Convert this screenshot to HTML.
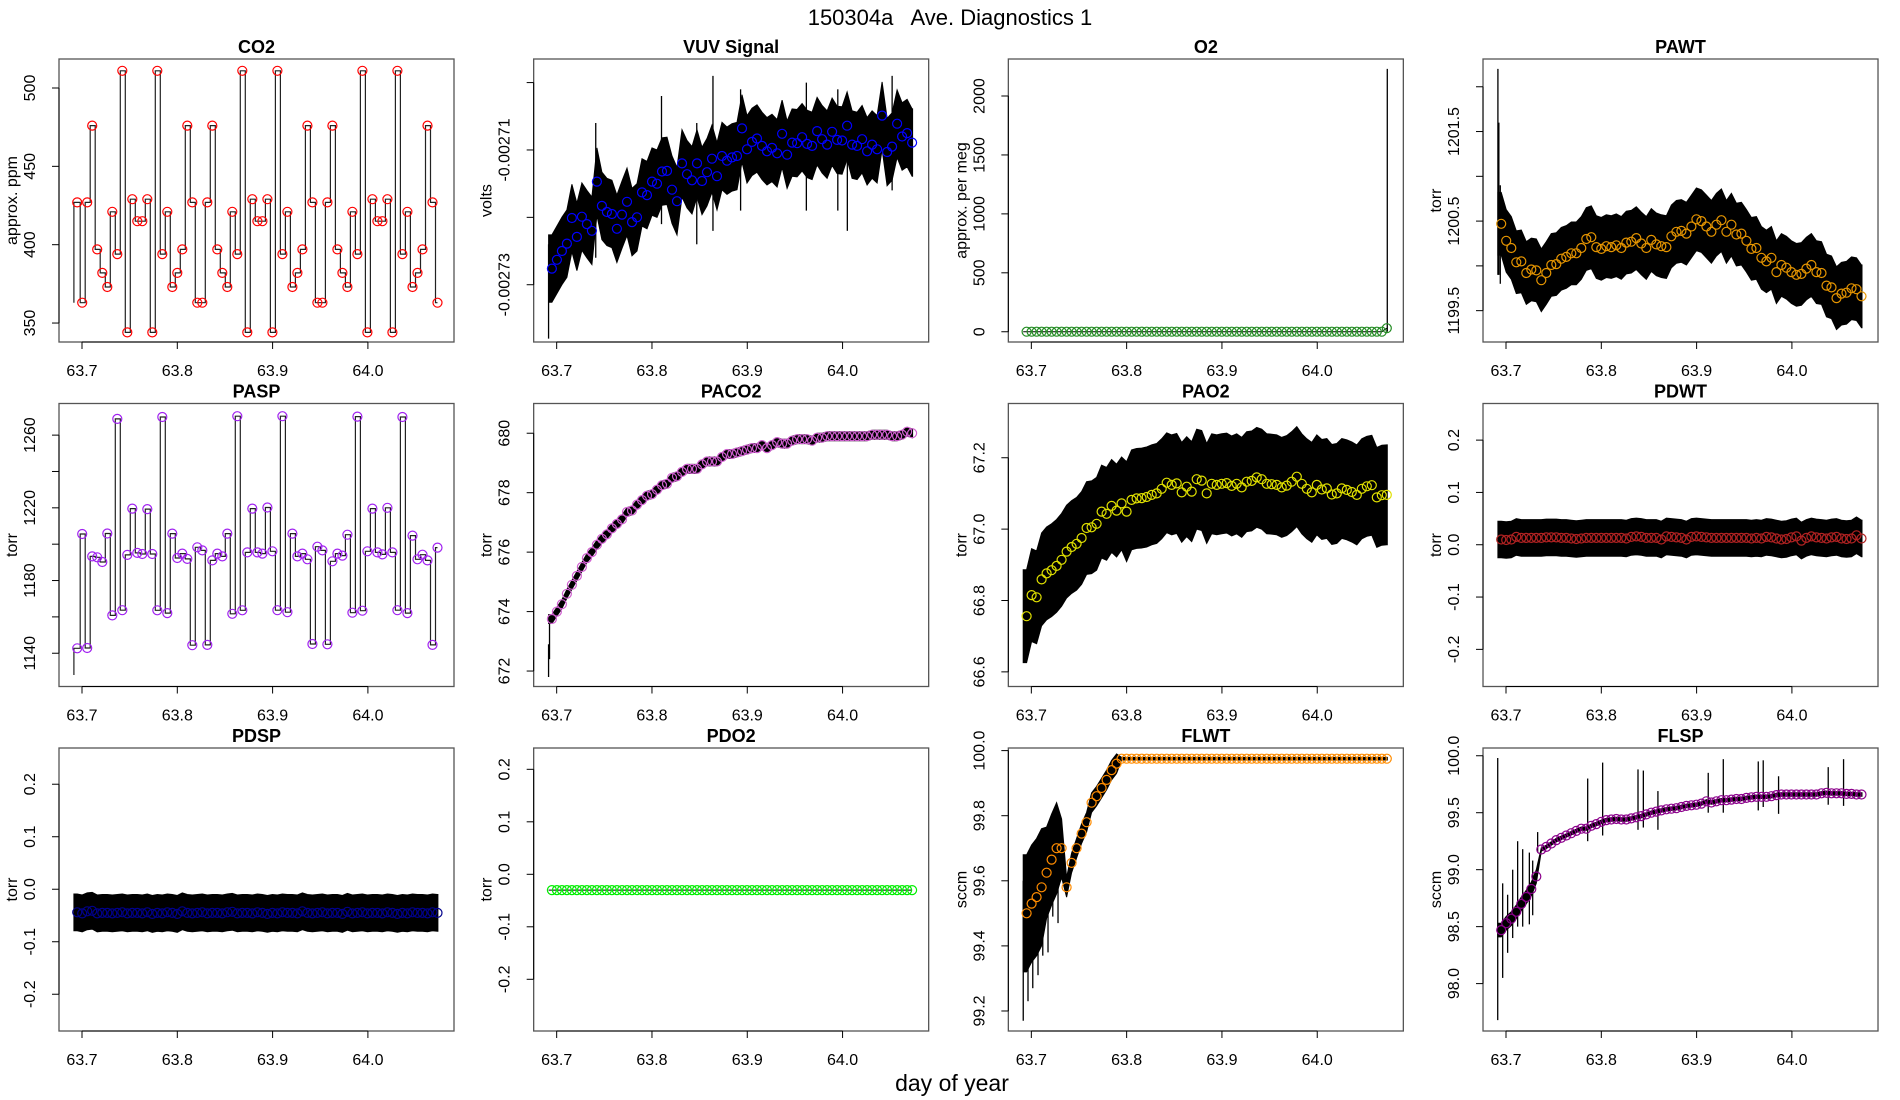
<!DOCTYPE html>
<html><head><meta charset="utf-8"><style>
html,body{margin:0;padding:0;background:#fff;}
svg{display:block;font-family:"Liberation Sans",sans-serif;}
</style></head><body>
<svg id="fig" width="1900" height="1100" viewBox="0 0 1900 1100">
<text x="950" y="25" text-anchor="middle" font-size="22" style="white-space:pre" xml:space="preserve">150304a   Ave. Diagnostics 1</text>
<text x="952" y="1091" text-anchor="middle" font-size="23">day of year</text>
</svg>
<script>
// ---- data ----
const xTicks = [63.7, 63.8, 63.9, 64.0];
const xTickLabels = ["63.7", "63.8", "63.9", "64.0"];
const tStart = 63.695, tStep = 0.00525, tFirst = 63.6915, tLast = 64.0735;

const co2Vals = [427,363,427,476,397,382,373,421,394,511,344,429,415,415,429,344,511,394,421,373,382,397,476,427,363,363,427,476,397,382,373,421,394,511,344,429,415,415,429,344,511,394,421,373,382,397,476,427,363,363,427,476,397,382,373,421,394,511,344,429,415,415,429,344,511,394,421,373,382,397,476,427,363];
const vuvVals = [-272.76,-272.63,-272.50,-272.39,-272.01,-272.29,-271.99,-272.10,-272.20,-271.47,-271.83,-271.92,-271.95,-272.17,-271.96,-271.77,-272.07,-272.00,-271.63,-271.67,-271.47,-271.50,-271.32,-271.31,-271.59,-271.76,-271.20,-271.36,-271.45,-271.20,-271.46,-271.33,-271.13,-271.39,-271.09,-271.16,-271.11,-271.09,-270.68,-270.99,-270.88,-270.83,-270.94,-271.02,-270.97,-271.05,-270.76,-271.07,-270.89,-270.90,-270.81,-270.91,-270.94,-270.72,-270.84,-270.92,-270.73,-270.85,-270.86,-270.64,-270.92,-270.94,-270.84,-271.02,-270.92,-270.99,-270.49,-271.03,-270.95,-270.61,-270.80,-270.75,-270.89];
const o2Vals = [0,0,0,0,0,0,0,0,0,0,0,0,0,0,0,0,0,0,0,0,0,0,0,0,0,0,0,0,0,0,0,0,0,0,0,0,0,0,0,0,0,0,0,0,0,0,0,0,0,0,0,0,0,0,0,0,0,0,0,0,0,0,0,0,0,0,0,0,0,0,0,0,30];
const pawtVals = [1200.47,1200.28,1200.20,1200.04,1200.05,1199.92,1199.96,1199.95,1199.84,1199.92,1200.01,1200.02,1200.08,1200.10,1200.14,1200.14,1200.20,1200.30,1200.32,1200.21,1200.19,1200.22,1200.21,1200.23,1200.20,1200.26,1200.27,1200.31,1200.25,1200.20,1200.29,1200.24,1200.22,1200.21,1200.33,1200.38,1200.39,1200.36,1200.44,1200.52,1200.50,1200.44,1200.38,1200.46,1200.51,1200.38,1200.46,1200.35,1200.36,1200.28,1200.19,1200.20,1200.09,1200.05,1200.09,1199.93,1200.01,1199.98,1199.93,1199.90,1199.91,1199.97,1200.01,1199.93,1199.92,1199.78,1199.76,1199.64,1199.69,1199.70,1199.75,1199.74,1199.66];
const paspVals = [1142.7,1205.6,1142.9,1193.3,1192.8,1190.2,1205.9,1160.8,1268.9,1163.7,1194.1,1219.6,1195.2,1194.6,1219.3,1194.6,1163.6,1270.0,1162.1,1205.8,1192.4,1194.8,1191.9,1144.4,1198.3,1196.6,1144.6,1191.1,1194.8,1193.3,1205.8,1161.7,1270.4,1163.6,1195.5,1219.6,1195.5,1194.8,1220.2,1196.1,1163.7,1270.4,1162.6,1205.8,1193.3,1194.8,1191.7,1145.1,1198.6,1196.6,1144.9,1190.6,1194.8,1193.7,1205.2,1162.3,1270.2,1163.4,1196.1,1219.6,1195.5,1194.4,1220.0,1195.5,1163.7,1270.0,1162.1,1204.7,1191.7,1194.2,1191.1,1144.6,1198.1];
const paco2Vals = [673.75,674.0,674.25,674.6,674.9,675.2,675.5,675.8,676.0,676.25,676.45,676.6,676.8,676.95,677.1,677.35,677.4,677.6,677.75,677.9,677.95,678.1,678.25,678.3,678.5,678.55,678.7,678.8,678.8,678.8,678.95,679.05,679.05,679.05,679.2,679.3,679.3,679.35,679.4,679.45,679.5,679.5,679.6,679.5,679.6,679.7,679.65,679.65,679.75,679.8,679.8,679.8,679.75,679.85,679.85,679.9,679.9,679.9,679.9,679.9,679.9,679.9,679.9,679.9,679.95,679.95,679.95,679.95,679.9,679.9,679.95,680.05,680.0];
const pao2Vals = [66.756,66.815,66.809,66.859,66.876,66.885,66.897,66.914,66.937,66.950,66.959,66.975,67.003,67.005,67.015,67.049,67.043,67.065,67.052,67.072,67.049,67.082,67.086,67.087,67.090,67.096,67.100,67.113,67.130,67.124,67.128,67.103,67.119,67.105,67.140,67.136,67.100,67.127,67.124,67.127,67.129,67.121,67.127,67.117,67.133,67.135,67.145,67.140,67.127,67.126,67.124,67.117,67.122,67.133,67.147,67.127,67.113,67.103,67.124,67.111,67.114,67.097,67.100,67.114,67.110,67.104,67.096,67.113,67.120,67.123,67.089,67.095,67.096];
const pdwtVals = [0.010,0.009,0.010,0.015,0.013,0.013,0.013,0.013,0.013,0.014,0.014,0.014,0.013,0.013,0.012,0.011,0.012,0.013,0.013,0.013,0.013,0.013,0.013,0.013,0.013,0.012,0.015,0.016,0.015,0.013,0.013,0.013,0.010,0.016,0.015,0.014,0.013,0.010,0.015,0.016,0.015,0.014,0.013,0.013,0.013,0.013,0.013,0.013,0.013,0.013,0.012,0.013,0.012,0.015,0.014,0.012,0.010,0.011,0.014,0.016,0.008,0.013,0.016,0.014,0.013,0.012,0.014,0.015,0.012,0.011,0.012,0.018,0.012];
const pdspVals = [-0.044,-0.046,-0.042,-0.041,-0.046,-0.045,-0.045,-0.046,-0.045,-0.044,-0.046,-0.045,-0.045,-0.046,-0.044,-0.047,-0.045,-0.046,-0.044,-0.045,-0.047,-0.042,-0.045,-0.046,-0.045,-0.044,-0.046,-0.045,-0.045,-0.046,-0.044,-0.043,-0.046,-0.045,-0.045,-0.046,-0.044,-0.045,-0.047,-0.045,-0.046,-0.044,-0.045,-0.045,-0.046,-0.042,-0.045,-0.046,-0.045,-0.044,-0.046,-0.045,-0.045,-0.047,-0.043,-0.046,-0.045,-0.044,-0.046,-0.045,-0.045,-0.046,-0.044,-0.045,-0.047,-0.045,-0.046,-0.044,-0.045,-0.045,-0.046,-0.044,-0.045];
const pdo2Vals = [-0.03,-0.03,-0.03,-0.03,-0.03,-0.03,-0.03,-0.03,-0.03,-0.03,-0.03,-0.03,-0.03,-0.03,-0.03,-0.03,-0.03,-0.03,-0.03,-0.03,-0.03,-0.03,-0.03,-0.03,-0.03,-0.03,-0.03,-0.03,-0.03,-0.03,-0.03,-0.03,-0.03,-0.03,-0.03,-0.03,-0.03,-0.03,-0.03,-0.03,-0.03,-0.03,-0.03,-0.03,-0.03,-0.03,-0.03,-0.03,-0.03,-0.03,-0.03,-0.03,-0.03,-0.03,-0.03,-0.03,-0.03,-0.03,-0.03,-0.03,-0.03,-0.03,-0.03,-0.03,-0.03,-0.03,-0.03,-0.03,-0.03,-0.03,-0.03,-0.03,-0.03];
const flwtVals = [99.50,99.53,99.55,99.58,99.625,99.665,99.70,99.70,99.58,99.655,99.70,99.745,99.78,99.84,99.86,99.885,99.91,99.94,99.96,99.975,99.975,99.975,99.975,99.975,99.975,99.975,99.975,99.975,99.975,99.975,99.975,99.975,99.975,99.975,99.975,99.975,99.975,99.975,99.975,99.975,99.975,99.975,99.975,99.975,99.975,99.975,99.975,99.975,99.975,99.975,99.975,99.975,99.975,99.975,99.975,99.975,99.975,99.975,99.975,99.975,99.975,99.975,99.975,99.975,99.975,99.975,99.975,99.975,99.975,99.975,99.975,99.975,99.975];
const flspVals = [98.47,98.53,98.57,98.63,98.70,98.76,98.83,98.94,99.177,99.20,99.23,99.26,99.28,99.30,99.32,99.34,99.36,99.36,99.385,99.40,99.42,99.435,99.44,99.445,99.44,99.44,99.45,99.46,99.47,99.485,99.50,99.51,99.52,99.53,99.535,99.54,99.55,99.56,99.565,99.57,99.58,99.60,99.59,99.60,99.61,99.61,99.615,99.62,99.62,99.63,99.635,99.64,99.64,99.64,99.645,99.655,99.66,99.66,99.66,99.66,99.66,99.66,99.66,99.66,99.67,99.675,99.67,99.67,99.67,99.665,99.665,99.66,99.66];

// noise band half-widths: [fromIndex, halfWidth]
const vuvBand = [[0,0.5]];
const pawtBand = [[0,0.35]];
const paco2Band = [[0,0.15]];
const pao2Band = [[0,0.13],[20,0.14]];
const pdwtBand = [[0,0.035]];
const pdspBand = [[0,0.035]];
const flwtBand = [[0,0.18],[4,0.14],[7,0.09],[8,0.03],[19,0.004]];
const flspBand = [[0,0.06],[8,0.015]];

// spikes: [time, low, high]
const pawtSpikes = [[63.6915,1199.9,1202.2],[63.6925,1199.9,1201.6],[63.694,1199.8,1200.9]];
const paco2Spikes = [[63.6915,671.8,672.9],[63.6925,672.4,673.9]];
const o2Spikes = [[64.0735,0,2230]];
const flwtSpikes = [[63.6915,99.17,99.6],[63.6965,99.23,99.6],[63.7015,99.27,99.65],[63.7070,99.31,99.68],[63.7120,99.37,99.7],[63.7175,99.38,99.72],[63.7225,99.49,99.72],[63.7280,99.47,99.78]];
const flspSpikes = [[63.6913,97.68,99.98],[63.6965,98.05,98.88],[63.7017,98.27,98.78],[63.7070,98.4,99.0],[63.7122,98.5,99.25],[63.7175,98.5,99.18],[63.7245,98.52,99.15],[63.7280,98.6,99.08],[63.7332,99.15,99.33],[63.7857,99.25,99.8],[63.8014,99.3,99.94],[63.8385,99.35,99.88],[63.8441,99.37,99.87],[63.8594,99.35,99.69],[63.9122,99.5,99.85],[63.9280,99.5,99.97],[63.9647,99.52,99.95],[63.9699,99.55,99.96],[63.9860,99.49,99.82],[64.0381,99.57,99.9],[64.0542,99.56,99.97]];
const vuvSpikes = [[63.6915,-273.8,-272.4],[63.7410,-272.6,-270.6],[63.8100,-272.1,-270.2],[63.8470,-272.4,-270.6],[63.8640,-272.2,-269.9],[63.8930,-271.9,-270.1],[63.9620,-271.9,-270.0],[63.9950,-271.9,-270.1],[64.0050,-272.2,-270.6],[64.0520,-271.6,-269.9]];

const panels = [
 {name:"CO2", ylab:"approx. ppm", vals:co2Vals, col:"#ff0000", ylim:[337.9,518.5], ticks:[350,400,450,500], labels:["350","400","450","500"], type:"step", head:363},
 {name:"VUV Signal", ylab:"volts", vals:vuvVals, col:"#0000ff", ylim:[-273.85,-269.65], ticks:[-273,-272,-271,-270], labels:["-0.00273","","-0.00271",""], type:"band", band:vuvBand, spikes:vuvSpikes},
 {name:"O2", ylab:"approx. per meg", vals:o2Vals, col:"#228b22", ylim:[-87,2314], ticks:[0,500,1000,1500,2000], labels:["0","500","1000","1500","2000"], type:"line", spikes:o2Spikes},
 {name:"PAWT", ylab:"torr", vals:pawtVals, col:"#e69500", ylim:[1199.15,1202.31], ticks:[1199.5,1200,1200.5,1201,1201.5,1202], labels:["1199.5","","1200.5","","1201.5",""], type:"band", band:pawtBand, spikes:pawtSpikes},
 {name:"PASP", ylab:"torr", vals:paspVals, col:"#a020f0", ylim:[1121.7,1277.4], ticks:[1140,1160,1180,1200,1220,1240,1260], labels:["1140","","1180","","1220","","1260"], type:"step", head:1128},
 {name:"PACO2", ylab:"torr", vals:paco2Vals, col:"#d060d0", ylim:[671.48,681.0], ticks:[672,674,676,678,680], labels:["672","674","676","678","680"], type:"band", band:paco2Band, spikes:paco2Spikes},
 {name:"PAO2", ylab:"torr", vals:pao2Vals, col:"#e0e000", ylim:[66.559,67.352], ticks:[66.6,66.8,67.0,67.2], labels:["66.6","66.8","67.0","67.2"], type:"band", band:pao2Band},
 {name:"PDWT", ylab:"torr", vals:pdwtVals, col:"#b22222", ylim:[-0.271,0.27], ticks:[-0.2,-0.1,0,0.1,0.2], labels:["-0.2","-0.1","0.0","0.1","0.2"], type:"band", band:pdwtBand},
 {name:"PDSP", ylab:"torr", vals:pdspVals, col:"#00008b", ylim:[-0.27,0.269], ticks:[-0.2,-0.1,0,0.1,0.2], labels:["-0.2","-0.1","0.0","0.1","0.2"], type:"band", band:pdspBand},
 {name:"PDO2", ylab:"torr", vals:pdo2Vals, col:"#00ee00", ylim:[-0.2985,0.2406], ticks:[-0.2,-0.1,0,0.1,0.2], labels:["-0.2","-0.1","0.0","0.1","0.2"], type:"line"},
 {name:"FLWT", ylab:"sccm", vals:flwtVals, col:"#ff8c00", ylim:[99.1385,100.008], ticks:[99.2,99.4,99.6,99.8,100.0], labels:["99.2","99.4","99.6","99.8","100.0"], type:"band", band:flwtBand, spikes:flwtSpikes},
 {name:"FLSP", ylab:"sccm", vals:flspVals, col:"#8b008b", ylim:[97.584,100.068], ticks:[98,98.5,99,99.5,100], labels:["98.0","98.5","99.0","99.5","100.0"], type:"band", band:flspBand, spikes:flspSpikes}
];

// ---- drawing ----
const NS = "http://www.w3.org/2000/svg";
const svg = document.getElementById("fig");
function mk(tag, attrs, parent){ const e=document.createElementNS(NS,tag); for(const k in attrs) e.setAttribute(k,attrs[k]); (parent||svg).appendChild(e); return e; }
function slug(s){ return s.toLowerCase().replace(/[^a-z0-9]+/g,"-").replace(/-$/,""); }
function hwAt(band,i){ let h=band[0][1]; for(const b of band){ if(i>=b[0]) h=b[1]; } return h; }

panels.forEach((p,idx)=>{
  const c = idx%4, r = Math.floor(idx/4);
  const L = 59 + c*474.67, T = 59 + r*344.5, W = 395, H = 283;
  const xs = t => L + 23 + (t-63.7)*953;
  const ys = v => T + H - (v-p.ylim[0])/(p.ylim[1]-p.ylim[0])*H;
  const times = p.vals.map((v,i)=>tStart + i*tStep);
  const g = mk("g",{});
  
  

  const title = mk("text",{x:L+W/2,y:T-6,"text-anchor":"middle","font-size":"18","font-weight":"bold"},g);
  title.textContent = p.name;
  
  

  if(p.type==="band"){
    let up=[], lo=[];
    const n=p.vals.length;
    up.push([xs(tFirst), ys(p.vals[0]+hwAt(p.band,0))]);
    lo.push([xs(tFirst), ys(p.vals[0]-hwAt(p.band,0))]);
    for(let i=0;i<n;i++){ const h=hwAt(p.band,i); up.push([xs(times[i]),ys(p.vals[i]+h)]); lo.push([xs(times[i]),ys(p.vals[i]-h)]); }
    up.push([xs(tLast), ys(p.vals[n-1]+hwAt(p.band,n-1))]);
    lo.push([xs(tLast), ys(p.vals[n-1]-hwAt(p.band,n-1))]);
    const pts = up.concat(lo.reverse()).map(q=>q[0].toFixed(1)+","+q[1].toFixed(1)).join(" ");
    const band = mk("polygon",{points:pts,fill:"#000",stroke:"#000","stroke-width":"1"},g);
    
    
  } else if(p.type==="step"){
    let d = "M"+xs(tFirst).toFixed(1)+","+ys(p.head).toFixed(1)+" V"+ys(p.vals[0]).toFixed(1);
    for(let i=0;i<p.vals.length;i++){
      const xe = (i<p.vals.length-1)? xs(times[i])+3 : xs(times[i]);
      d += " H"+xe.toFixed(1);
      if(i<p.vals.length-1) d += " V"+ys(p.vals[i+1]).toFixed(1);
    }
    const ln = mk("path",{d:d,fill:"none",stroke:"#222","stroke-width":"1.2"},g);
    
    
  } else {
    let d="M"+xs(tFirst).toFixed(1)+","+ys(p.vals[0]).toFixed(1);
    p.vals.forEach((v,i)=>{ d+=" L"+xs(times[i]).toFixed(1)+","+ys(v).toFixed(1); });
    const ln = mk("path",{d:d,fill:"none",stroke:"#000","stroke-width":"1"},g);
    
    
  }
  (p.spikes||[]).forEach(s=>{
    const sp = mk("line",{x1:xs(s[0]),x2:xs(s[0]),y1:ys(s[1]),y2:ys(s[2]),stroke:"#000","stroke-width":"1.3"},g);
    
    
  });
  p.vals.forEach((v,i)=>{
    const ci = mk("circle",{cx:xs(times[i]).toFixed(1),cy:ys(v).toFixed(1),r:"4.5",fill:"none",stroke:p.col,"stroke-width":"1.2"},g);
    
    
  });

  const box = mk("rect",{x:L,y:T,width:W,height:H,fill:"none",stroke:"#555","stroke-width":"1.3"},g);
  
  

  const xa = mk("line",{x1:xs(xTicks[0]),x2:xs(xTicks[xTicks.length-1]),y1:T+H,y2:T+H,stroke:"#000","stroke-width":"1"},g);
  
  
  xTicks.forEach((t,i)=>{
    mk("line",{x1:xs(t),x2:xs(t),y1:T+H,y2:T+H+7,stroke:"#000","stroke-width":"1"},g);
    const tl = mk("text",{x:xs(t),y:T+H+34,"text-anchor":"middle","font-size":"16"},g);
    tl.textContent = xTickLabels[i];
    
    
  });
  const ya = mk("line",{x1:L,x2:L,y1:ys(p.ticks[0]),y2:ys(p.ticks[p.ticks.length-1]),stroke:"#000","stroke-width":"1"},g);
  
  
  p.ticks.forEach((v,i)=>{
    const y=ys(v);
    mk("line",{x1:L-7,x2:L,y1:y,y2:y,stroke:"#000","stroke-width":"1"},g);
    if(p.labels[i]){
      const yl = mk("text",{x:L-24,y:y,"text-anchor":"middle","font-size":"16",transform:"rotate(-90 "+(L-24)+" "+y+")"},g);
      yl.textContent = p.labels[i];
      
      
    }
  });
  const yt = mk("text",{x:L-42,y:T+H/2,"text-anchor":"middle","font-size":"16",transform:"rotate(-90 "+(L-42)+" "+(T+H/2)+")"},g);
  yt.textContent = p.ylab;
  
  
});
</script>
</body></html>
